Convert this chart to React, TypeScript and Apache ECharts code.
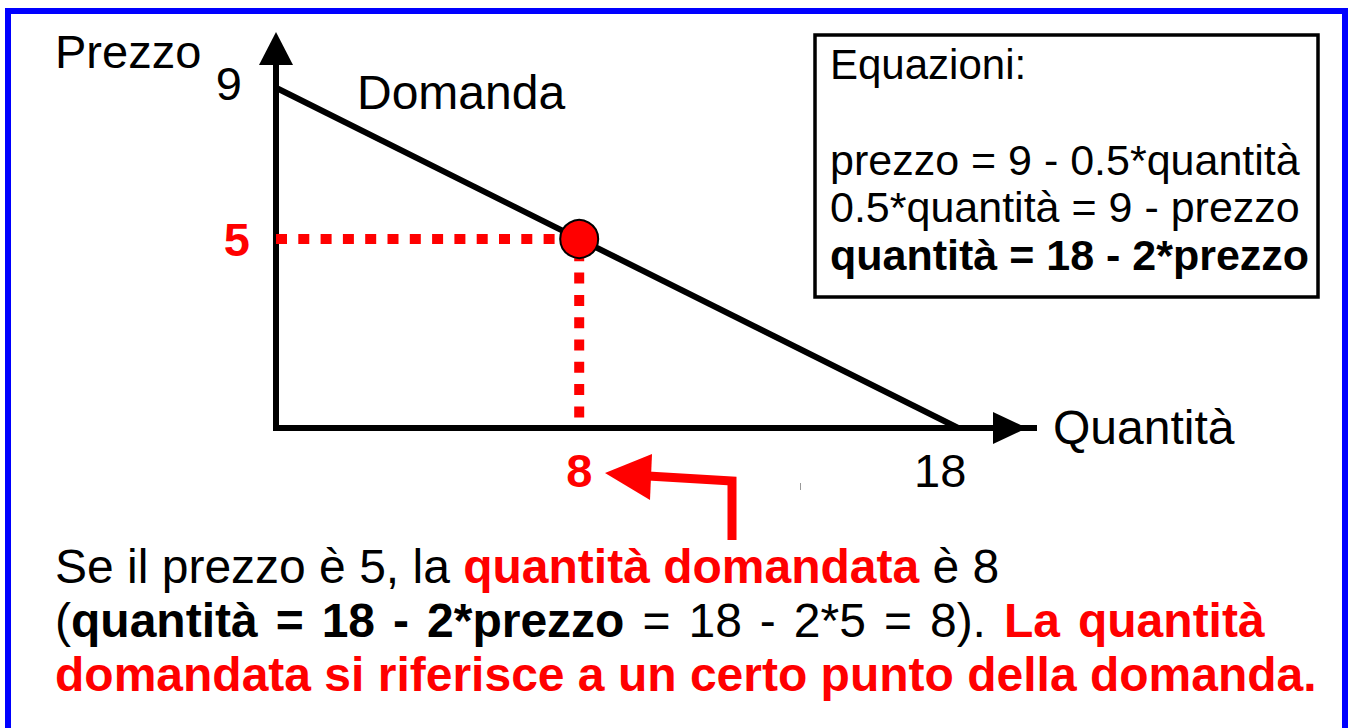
import React, { useEffect, useRef } from "react";
import * as echarts from "echarts";

// ---- data ----
const demandQuantity = [0, 18];
const demandPrice = [9, 0];
const pointQuantity = 8;
const pointPrice = 5;
const xTickValues = [8, 18];
const yTickValues = [5, 9];
const xAxisMax = 20;
const yAxisMax = 10;

const xAxisName = "Quantità";
const yAxisName = "Prezzo";
const curveName = "Domanda";
const boxTitle = "Equazioni:";
const boxLines = [
  "prezzo = 9 - 0.5*quantità",
  "0.5*quantità = 9 - prezzo",
  "quantità = 18 - 2*prezzo",
];

const FONT = "'Liberation Sans', Arial, Helvetica, sans-serif";
const RED = "#ff0000";
const BLUE = "#0000ff";

export default function App() {
  const ref = useRef<HTMLDivElement>(null);

  useEffect(() => {
    if (!ref.current) return;
    const chart = echarts.init(ref.current, undefined, { renderer: "svg" });

    const demandData = demandQuantity.map((q, i) => [q, demandPrice[i]]);

    const big = 47;
    const para = 48;
    const sp = { fontSize: para, fontFamily: FONT, lineHeight: 54, width: 18 };
    const n = { fontSize: para, fontFamily: FONT, lineHeight: 54, fill: "#000" };
    const b = { ...n, fontWeight: "bold" };
    const rb = { ...b, fill: RED };

    const option: any = {
      animation: false,
      backgroundColor: "#ffffff",
      grid: { left: 276, right: 318, top: 50, bottom: 300, containLabel: false },
      xAxis: {
        type: "value",
        min: 0,
        max: xAxisMax,
        axisLine: {
          show: true,
          onZero: false,
          symbol: ["none", "triangle"],
          symbolSize: [32, 34],
          symbolOffset: [0, -24],
          lineStyle: { color: "#000", width: 6, cap: "square" },
        },
        axisTick: { show: false },
        splitLine: { show: false },
        axisLabel: {
          customValues: xTickValues,
          margin: 19,
          formatter: (v: number) => (v === pointQuantity ? `{r|${v}}` : `{k|${v}}`),
          rich: {
            r: { color: RED, fontWeight: "bold", fontSize: big, fontFamily: FONT },
            k: { color: "#000", fontSize: big, fontFamily: FONT, padding: [0, 36, 0, 0] },
          },
        },
      },
      yAxis: {
        type: "value",
        min: 0,
        max: yAxisMax,
        axisLine: {
          show: true,
          onZero: false,
          symbol: ["none", "triangle"],
          symbolSize: [34, 33],
          symbolOffset: [0, 1.5],
          lineStyle: { color: "#000", width: 6, cap: "square" },
        },
        axisTick: { show: false },
        splitLine: { show: false },
        axisLabel: {
          customValues: yTickValues,
          margin: 26,
          formatter: (v: number) => (v === pointPrice ? `{r|${v}}` : `{k|${v}}`),
          rich: {
            r: { color: RED, fontWeight: "bold", fontSize: big, fontFamily: FONT },
            k: { color: "#000", fontSize: big, fontFamily: FONT, padding: [0, 8, 8, 0] },
          },
        },
      },
      series: [
        {
          name: curveName,
          type: "line",
          data: demandData,
          symbol: "none",
          lineStyle: { color: "#000", width: 6 },
          z: 3,
        },
        {
          type: "line",
          data: [
            [0, pointPrice],
            [pointQuantity, pointPrice],
          ],
          symbol: "none",
          lineStyle: { color: RED, width: 10, type: [11, 11.3], dashOffset: 0, cap: "butt" },
          z: 2,
        },
        {
          type: "line",
          data: [
            [pointQuantity, pointPrice],
            [pointQuantity, 0],
          ],
          symbol: "none",
          lineStyle: { color: RED, width: 10, type: [11, 11.3], dashOffset: 11, cap: "butt" },
          z: 2,
        },
        {
          type: "scatter",
          data: [[pointQuantity, pointPrice]],
          symbol: "circle",
          symbolSize: 38,
          itemStyle: { color: RED, borderColor: "#000", borderWidth: 2, opacity: 1 },
          z: 5,
        },
      ],
      graphic: [
        {
          type: "rect",
          shape: { x: 8, y: 11, width: 1337, height: 760 },
          style: { fill: "none", stroke: BLUE, lineWidth: 6 },
          silent: true,
        },
        {
          type: "rect",
          shape: { x: 815, y: 35, width: 503, height: 262 },
          style: { fill: "#fff", stroke: "#000", lineWidth: 3.5 },
          silent: true,
        },
        {
          type: "text",
          x: 830,
          y: 64,
          style: {
            text: boxTitle,
            fill: "#000",
            fontSize: 42,
            fontFamily: FONT,
            align: "left",
            textAlign: "left",
            verticalAlign: "middle",
            textVerticalAlign: "middle",
          },
        },
        {
          type: "text",
          x: 830,
          y: 136,
          style: {
            text: `{n|${boxLines[0]}}\n{n|${boxLines[1]}}\n{b|${boxLines[2]}}`,
            align: "left",
            textAlign: "left",
            verticalAlign: "top",
            textVerticalAlign: "top",
            rich: {
              n: { fontSize: 43, fontFamily: FONT, lineHeight: 47.5, fill: "#000" },
              b: { fontSize: 43, fontFamily: FONT, lineHeight: 47.5, fill: "#000", fontWeight: "bold" },
            },
          },
        },
        {
          type: "text",
          x: 55,
          y: 51,
          style: {
            text: yAxisName,
            fill: "#000",
            fontSize: big,
            fontFamily: FONT,
            align: "left",
            textAlign: "left",
            verticalAlign: "middle",
            textVerticalAlign: "middle",
          },
        },
        {
          type: "text",
          x: 357,
          y: 92,
          style: {
            text: curveName,
            fill: "#000",
            fontSize: 48,
            fontFamily: FONT,
            align: "left",
            textAlign: "left",
            verticalAlign: "middle",
            textVerticalAlign: "middle",
          },
        },
        {
          type: "text",
          x: 1053,
          y: 427,
          style: {
            text: xAxisName,
            fill: "#000",
            fontSize: 48,
            fontFamily: FONT,
            align: "left",
            textAlign: "left",
            verticalAlign: "middle",
            textVerticalAlign: "middle",
          },
        },
        {
          type: "polyline",
          shape: {
            points: [
              [732, 540],
              [732, 481],
              [648, 476],
            ],
          },
          style: { stroke: RED, lineWidth: 9, fill: "none", lineJoin: "miter" },
          silent: true,
        },
        {
          type: "polygon",
          shape: {
            points: [
              [605, 473],
              [652, 454],
              [650, 500],
            ],
          },
          style: { fill: RED },
          silent: true,
        },
        {
          type: "line",
          shape: { x1: 800.5, y1: 483, x2: 800.5, y2: 490 },
          style: { stroke: "#999", lineWidth: 1 },
          silent: true,
        },
        {
          type: "text",
          x: 55,
          y: 539,
          style: {
            text:
              "{n|Se il prezzo è 5, la }{rb|quantità domandata}{n| è 8}\n" +
              "{n|(}{b|quantità}{s| }{b|=}{s| }{b|18}{s| }{b|-}{s| }{b|2*prezzo}{s| }{n|=}{s| }{n|18}{s| }{n|-}{s| }{n|2*5}{s| }{n|=}{s| }{n|8).}{s| }{rb|La}{s| }{rb|quantità}\n" +
              "{rb|domandata si riferisce a un certo punto della domanda.}",
            align: "left",
            textAlign: "left",
            verticalAlign: "top",
            textVerticalAlign: "top",
            rich: { n, b, rb, s: sp },
          },
        },
      ],
    };

    chart.setOption(option);
    return () => chart.dispose();
  }, []);

  return (
    <div
      ref={ref}
      style={{ position: "fixed", left: 0, top: 0, width: 1352, height: 728, background: "#fff" }}
    />
  );
}
